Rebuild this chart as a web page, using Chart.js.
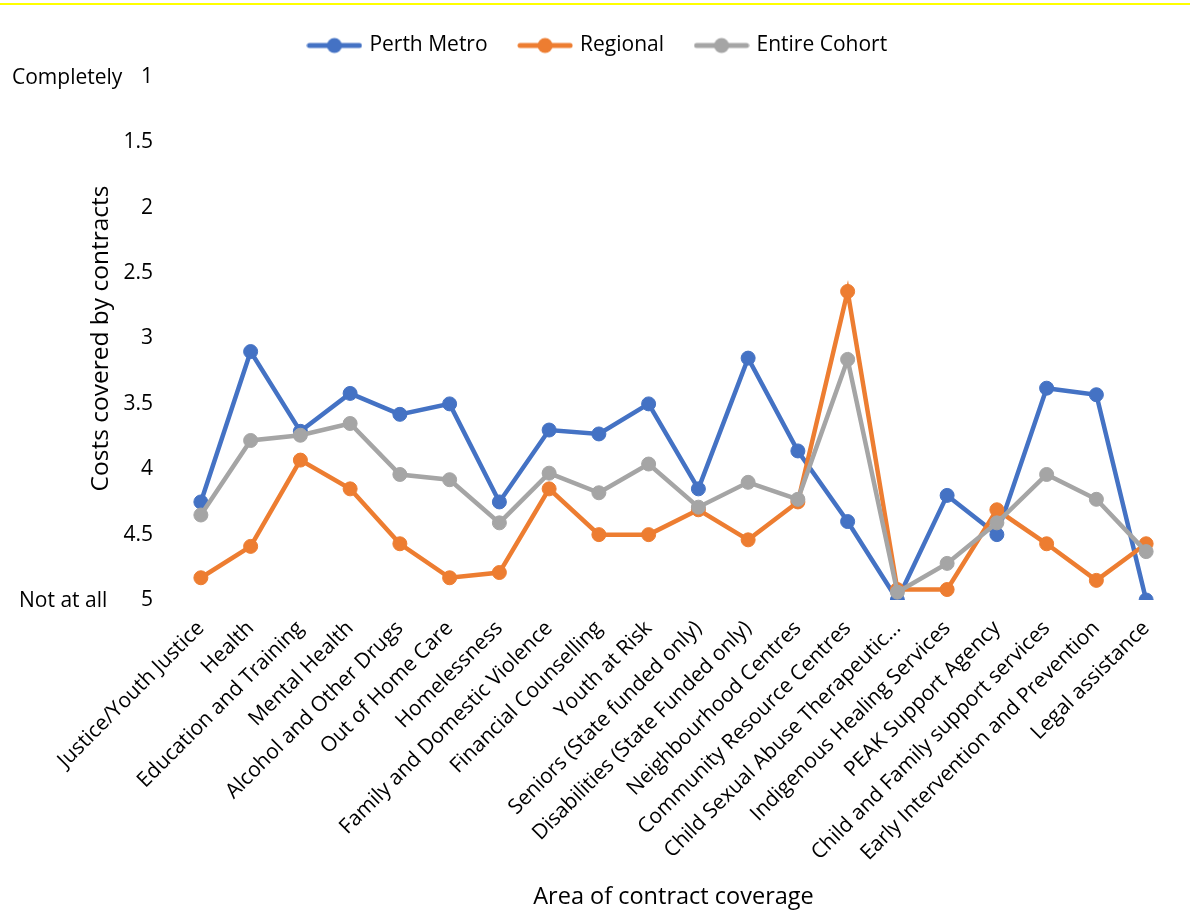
<!DOCTYPE html>
<html>
<head>
<meta charset="utf-8">
<title>Costs covered by contracts</title>
<script src="https://cdn.jsdelivr.net/npm/chart.js@4.4.1/dist/chart.umd.min.js"></script>
<style>
  html, body { margin: 0; padding: 0; background: #ffffff; }
  #wrap { width: 1190px; height: 913px; position: relative; }
</style>
</head>
<body>
<div id="wrap"><canvas id="chart" width="1190" height="913"></canvas></div>
<script>
// Service areas along the horizontal axis
const categories = [
  'Justice/Youth Justice', 'Health', 'Education and Training', 'Mental Health',
  'Alcohol and Other Drugs', 'Out of Home Care', 'Homelessness',
  'Family and Domestic Violence', 'Financial Counselling', 'Youth at Risk',
  'Seniors (State funded only)', 'Disabilities (State Funded only)',
  'Neighbourhood Centres', 'Community Resource Centres',
  'Child Sexual Abuse Therapeutic...', 'Indigenous Healing Services',
  'PEAK Support Agency', 'Child and Family support services',
  'Early Intervention and Prevention', 'Legal assistance'
];

// Average rating: 1 = completely covered, 5 = not at all
const perthMetro   = [4.25, 3.10, 3.71, 3.42, 3.58, 3.50, 4.25, 3.70, 3.73, 3.50, 4.15, 3.15, 3.86, 4.40, 5.00, 4.20, 4.50, 3.38, 3.43, 5.00];
const regional     = [4.83, 4.59, 3.93, 4.15, 4.57, 4.83, 4.79, 4.15, 4.50, 4.50, 4.31, 4.54, 4.25, 2.64, 4.92, 4.92, 4.31, 4.57, 4.85, 4.57];
const entireCohort = [4.35, 3.78, 3.74, 3.65, 4.04, 4.08, 4.41, 4.03, 4.18, 3.96, 4.29, 4.10, 4.23, 3.16, 4.94, 4.72, 4.41, 4.04, 4.23, 4.63];

const seriesNames  = ['Perth Metro', 'Regional', 'Entire Cohort'];
const seriesColors = ['#4472C4', '#ED7D31', '#A5A5A5'];

// Words written beside the two ends of the rating scale
const scaleEnds      = [1, 5];
const scaleEndLabels = ['Completely', 'Not at all'];

const FONT = "'Open Sans', sans-serif";
Chart.defaults.font.family = FONT;
Chart.defaults.color = '#000000';

// Legend swatch: a short line with a round marker on it
function makeSwatch(color) {
  const c = document.createElement('canvas');
  c.width = 56; c.height = 18;
  const g = c.getContext('2d');
  g.strokeStyle = color; g.lineWidth = 5; g.lineCap = 'round';
  g.beginPath(); g.moveTo(3, 9); g.lineTo(53, 9); g.stroke();
  g.fillStyle = color;
  g.beginPath(); g.arc(28, 9, 7.5, 0, Math.PI * 2); g.fill();
  return c;
}
const swatches = seriesColors.map(makeSwatch);

const seriesData = [perthMetro, regional, entireCohort];
const datasets = seriesData.map((values, i) => ({
  label: seriesNames[i],
  data: values,
  borderColor: seriesColors[i],
  backgroundColor: seriesColors[i],
  pointBackgroundColor: seriesColors[i],
  pointBorderColor: seriesColors[i],
  borderWidth: 4.5,
  pointRadius: 7,
  pointBorderWidth: 1,
  pointHoverRadius: 7,
  tension: 0,
  fill: false,
  order: seriesData.length - i
}));

// Extra room under the legend row
const legendSpacing = {
  id: 'legendSpacing',
  beforeInit(chart) {
    const legend = chart.legend;
    if (!legend) return;
    const fit = legend.fit;
    legend.fit = function () {
      fit.call(this);
      this.height += 11;
    };
  }
};

// Yellow rule at the top edge and the words at the scale ends
const decorations = {
  id: 'decorations',
  beforeDraw(chart) {
    const ctx = chart.ctx;
    ctx.save();
    ctx.fillStyle = '#FFFF00';
    ctx.fillRect(0, 3, chart.width, 2);
    ctx.restore();
  },
  afterDraw(chart) {
    const ctx = chart.ctx;
    const y = chart.scales.y;
    ctx.save();
    ctx.font = '21px ' + FONT;
    ctx.fillStyle = '#000000';
    ctx.textBaseline = 'middle';
    ctx.textAlign = 'left';
    const xs = [12, 19];
    scaleEnds.forEach((v, i) => {
      ctx.fillText(scaleEndLabels[i], xs[i], y.getPixelForValue(v) + 1);
    });
    ctx.restore();
  }
};

new Chart(document.getElementById('chart'), {
  type: 'line',
  data: { labels: categories, datasets },
  options: {
    responsive: false,
    devicePixelRatio: 1,
    animation: false,
    events: [],
    layout: { padding: { top: 2, left: 26, right: 19, bottom: 2 } },
    plugins: {
      tooltip: { enabled: false },
      legend: {
        position: 'top',
        align: 'center',
        labels: {
          usePointStyle: true,
          pointStyleWidth: 49,
          padding: 33,
          color: '#000000',
          font: { size: 21, family: FONT },
          sort: (a, b) => a.datasetIndex - b.datasetIndex,
          generateLabels(chart) {
            const items = Chart.defaults.plugins.legend.labels.generateLabels(chart);
            items.forEach(it => { it.pointStyle = swatches[it.datasetIndex]; });
            return items;
          }
        }
      }
    },
    scales: {
      x: {
        type: 'category',
        offset: true,
        grid: { display: false, drawTicks: false },
        border: { display: false },
        ticks: {
          autoSkip: false,
          maxRotation: 45,
          minRotation: 45,
          padding: 16,
          color: '#000000',
          font: { size: 21, family: FONT }
        },
        title: {
          display: true,
          text: 'Area of contract coverage',
          color: '#000000',
          font: { size: 23.5, family: FONT },
          padding: { top: 0, bottom: 0 }
        },
        afterFit(scale) { scale.height = 311; }
      },
      y: {
        min: 1,
        max: 5,
        reverse: true,
        grid: { display: false, drawTicks: false },
        border: { display: false },
        ticks: {
          stepSize: 0.5,
          padding: 23,
          color: '#000000',
          font: { size: 21, family: FONT },
          callback: (v) => String(Math.round(v * 10) / 10)
        },
        title: {
          display: true,
          text: 'Costs covered by contracts',
          color: '#000000',
          font: { size: 24.5, family: FONT },
          padding: { top: 60, bottom: 0 }
        },
        afterFit(scale) { scale.width = 150; }
      }
    }
  },
  plugins: [legendSpacing, decorations]
});
</script>
</body>
</html>
